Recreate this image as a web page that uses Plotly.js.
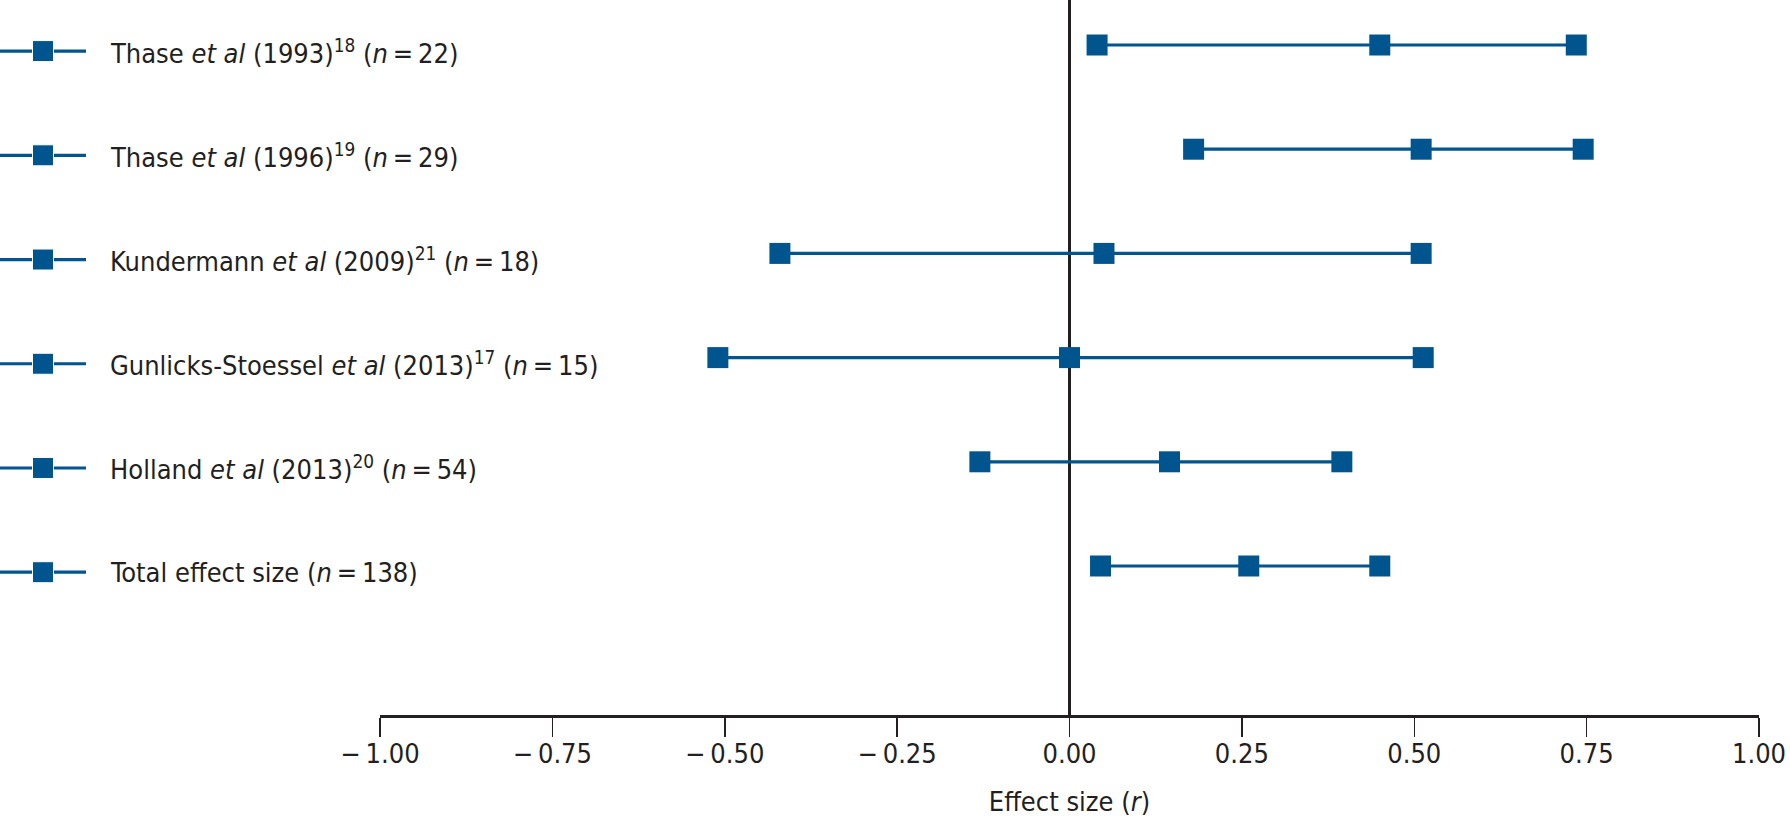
<!DOCTYPE html>
<html>
<head>
<meta charset="utf-8">
<script src="https://cdn.plot.ly/plotly-3.0.1.min.js"></script>
<style>html,body{margin:0;padding:0;background:#fff;}#chart{width:1790px;height:817px;}</style>
</head>
<body>
<div id="chart"></div>
<script>
// ---- data ----
const STUDIES = [
  "Thase <i>et al</i> (1993)<sup>18</sup> (<i>n</i>\u2009=\u200922)",
  "Thase <i>et al</i> (1996)<sup>19</sup> (<i>n</i>\u2009=\u200929)",
  "Kundermann <i>et al</i> (2009)<sup>21</sup> (<i>n</i>\u2009=\u200918)",
  "Gunlicks-Stoessel <i>et al</i> (2013)<sup>17</sup> (<i>n</i>\u2009=\u200915)",
  "Holland <i>et al</i> (2013)<sup>20</sup> (<i>n</i>\u2009=\u200954)",
  "Total effect size (<i>n</i>\u2009=\u2009138)"
];
const LOWER = [0.04, 0.18, -0.42, -0.51, -0.13, 0.045];
const ESTIMATE = [0.45, 0.51, 0.05, 0.00, 0.145, 0.26];
const UPPER = [0.735, 0.745, 0.51, 0.513, 0.395, 0.45];
const TICK_VALUES = [-1, -0.75, -0.5, -0.25, 0, 0.25, 0.5, 0.75, 1];
const TICK_LABELS = ["\u2212\u20091.00", "\u2212\u20090.75", "\u2212\u20090.50", "\u2212\u20090.25", "0.00", "0.25", "0.50", "0.75", "1.00"];
const GLYPH_X = [0, 0.5, 1];

const BLUE = '#00558f';
const INK = '#231f20';
const FONT = '"Liberation Sans Narrow", "DejaVu Sans Condensed", sans-serif';

const traces = [];
STUDIES.forEach((s, i) => {
  traces.push({
    type: 'scatter', mode: 'lines+markers',
    x: [LOWER[i], ESTIMATE[i], UPPER[i]],
    y: [i, i, i],
    xaxis: 'x', yaxis: 'y',
    line: {color: BLUE, width: 3.2},
    marker: {symbol: 'square', size: 21, color: BLUE, opacity: 1},
    cliponaxis: false, showlegend: false, hoverinfo: 'x'
  });
  // legend glyph
  traces.push({
    type: 'scatter', mode: 'lines+markers',
    x: GLYPH_X, y: GLYPH_X.map(() => i),
    xaxis: 'x2', yaxis: 'y2',
    line: {color: BLUE, width: 3.2},
    marker: {symbol: 'square', size: [0, 21, 0], color: BLUE, opacity: 1},
    cliponaxis: false, showlegend: false, hoverinfo: 'skip'
  });
});

const W = 1790 - 31;
const annotations = STUDIES.map((s, i) => ({
  xref: 'paper', yref: 'y2', x: 108 / W, y: i,
  xanchor: 'left', yanchor: 'middle', showarrow: false,
  text: s, font: {family: FONT, size: 27, color: INK}
}));

const layout = {
  width: 1790, height: 817,
  margin: {l: 0, r: 31, t: 0, b: 102, pad: 0},
  paper_bgcolor: '#fff', plot_bgcolor: '#fff',
  showlegend: false,
  font: {family: FONT, color: INK},
  xaxis: {
    domain: [380 / W, 1], range: [-1, 1],
    tickmode: 'array', tickvals: TICK_VALUES, ticktext: TICK_LABELS,
    ticks: 'outside', ticklen: 19, tickwidth: 1.5, tickcolor: INK,
    ticklabelstandoff: -6,
    showline: true, linewidth: 3, linecolor: INK,
    zeroline: true, zerolinecolor: INK, zerolinewidth: 2.5,
    showgrid: false, tickfont: {family: FONT, size: 27, color: INK},
    title: {text: 'Effect size (<i>r</i>)', font: {family: FONT, size: 27, color: INK}, standoff: 24},
    automargin: false, fixedrange: true
  },
  yaxis: {
    range: [6.43, -0.432], visible: false, showgrid: false, zeroline: false, fixedrange: true
  },
  xaxis2: {domain: [0, 86 / W], range: [0, 1], visible: false, anchor: 'y2', fixedrange: true},
  yaxis2: {range: [6.37, -0.49], visible: false, anchor: 'x2', fixedrange: true},
  annotations: annotations
};

Plotly.newPlot('chart', traces, layout, {displayModeBar: false, staticPlot: true});
</script>
</body>
</html>
